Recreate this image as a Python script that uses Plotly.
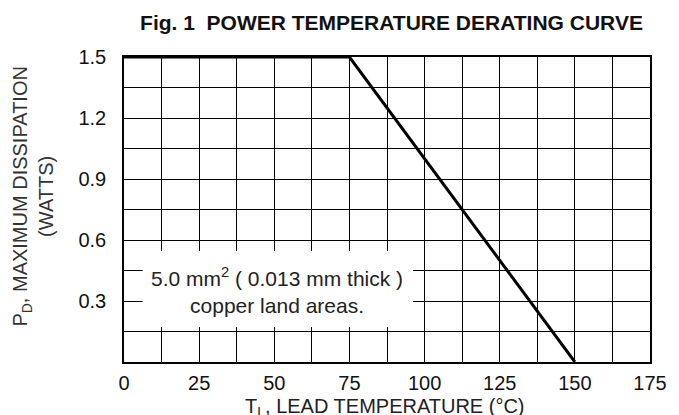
import plotly.graph_objects as go

# Data
temp_c = [0, 75, 150]
power_w = [1.5, 1.5, 0.0]

x_tick_vals = [0, 12.5, 25, 37.5, 50, 62.5, 75, 87.5, 100, 112.5, 125, 137.5, 150, 162.5, 175]
x_tick_text = ["0", "", "25", "", "50", "", "75", "", "100", "", "125", "", "150", "", "175"]
y_tick_vals = [0, 0.15, 0.3, 0.45, 0.6, 0.75, 0.9, 1.05, 1.2, 1.35, 1.5]
y_tick_text = ["", "", "0.3", "", "0.6", "", "0.9", "", "1.2", "", "1.5"]

title_text = "<b>Fig. 1  POWER TEMPERATURE DERATING CURVE</b>"
x_title = "T<sub>L</sub>, LEAD TEMPERATURE (°C)"
y_title = "P<sub>D</sub>, MAXIMUM DISSIPATION<br>(WATTS)"
note_text = "5.0 mm<sup>2</sup> ( 0.013 mm thick )<br>copper land areas."

FONT = "Liberation Sans, Arial, sans-serif"
W, H = 671, 407

fig = go.Figure()
fig.add_trace(go.Scatter(
    x=temp_c, y=power_w, mode="lines",
    line=dict(color="black", width=3),
    hoverinfo="skip", showlegend=False,
))

# white box behind note (hides grid)
fig.add_shape(type="rect", xref="x", yref="y",
              x0=6.2, x1=96.2, y0=0.172, y1=0.546,
              fillcolor="white", line=dict(width=0), layer="above")

fig.add_annotation(x=50.9, y=0.354, xref="x", yref="y",
                   text=note_text, showarrow=False,
                   font=dict(family=FONT, size=21, color="#222"),
                   align="center")

fig.add_annotation(xref="paper", yref="paper", x=-0.172, y=0.544,
                   xanchor="center", yanchor="middle",
                   text=y_title, textangle=-90, showarrow=False,
                   font=dict(family=FONT, size=20, color="#333"),
                   align="center")

fig.add_annotation(xref="paper", yref="paper", x=0.497, y=-0.15,
                   xanchor="center", yanchor="middle",
                   text=x_title, showarrow=False,
                   font=dict(family=FONT, size=20, color="#222"))

fig.update_layout(
    width=W, height=H,
    margin=dict(l=116, r=20, t=49, b=53),
    paper_bgcolor="white", plot_bgcolor="white",
    title=dict(text=title_text, x=(116 + 651) / 2 / W, xanchor="center",
               yref="container", y=1 - 15 / H, yanchor="middle",
               font=dict(family=FONT, size=21, color="#111")),
    font=dict(family=FONT, size=20, color="#111"),
    xaxis=dict(range=[0, 175], tickvals=x_tick_vals, ticktext=x_tick_text,
               showgrid=True, gridcolor="black", gridwidth=1,
               showline=True, linecolor="black", linewidth=1.5, mirror=True,
               ticks="", zeroline=False, fixedrange=True, ticklabelstandoff=2),
    yaxis=dict(range=[0, 1.5], tickvals=y_tick_vals, ticktext=y_tick_text,
               showgrid=True, gridcolor="black", gridwidth=1,
               showline=True, linecolor="black", linewidth=1.5, mirror=True,
               ticks="", zeroline=False, fixedrange=True, ticklabelstandoff=12),
)

fig.write_html("out.html")
